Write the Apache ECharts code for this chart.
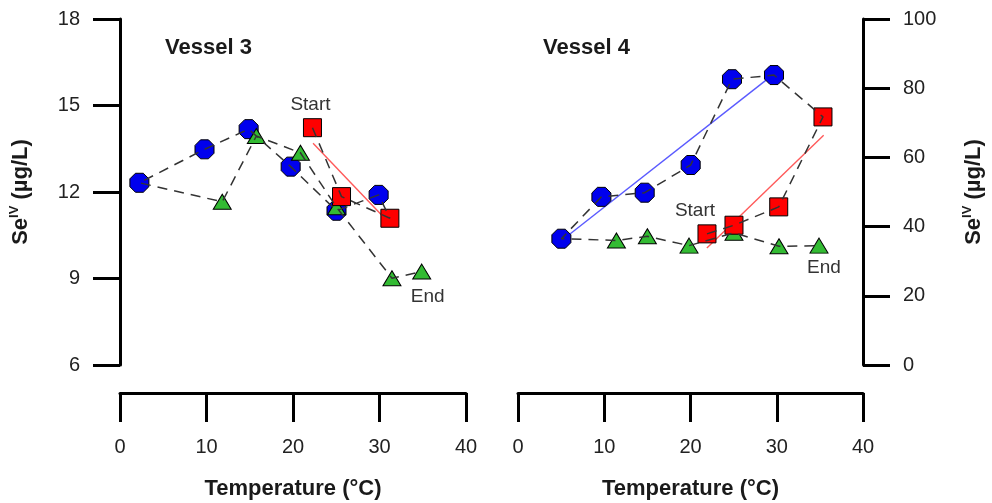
<!DOCTYPE html>
<html>
<head>
<meta charset="utf-8">
<script src="https://cdn.jsdelivr.net/npm/echarts@6/dist/echarts.min.js"></script>
<style>
html,body{margin:0;padding:0;background:#fff;}
#chart{width:992px;height:503px;}
</style>
</head>
<body>
<div id="chart"></div>
<script>
// ---------- data (chronological order within each phase) ----------
// Vessel 3
var v3SquaresT = [22.25, 25.61, 31.2];
var v3SquaresV = [14.23, 11.84, 11.09];
var v3CirclesT = [29.9, 25.03, 19.73, 14.87, 9.77, 2.24];
var v3CirclesV = [11.90, 11.35, 12.88, 14.18, 13.48, 12.32];
var v3TrianglesT = [11.82, 15.76, 20.86, 25.03, 31.44, 34.88];
var v3TrianglesV = [11.66, 13.94, 13.36, 11.47, 9.01, 9.24];
var v3RedFitT = [22.32, 30.24];
var v3RedFitV = [13.69, 11.20];
// Vessel 4
var v4SquaresT = [21.91, 25.04, 30.23, 35.36];
var v4SquaresV = [37.9, 40.4, 45.7, 71.7];
var v4CirclesT = [29.68, 24.81, 20.02, 14.69, 9.67, 5.03];
var v4CirclesV = [83.8, 82.6, 57.8, 49.8, 48.6, 36.5];
var v4TrianglesT = [11.41, 15.0, 19.83, 25.04, 30.26, 34.9];
var v4TrianglesV = [36.0, 37.2, 34.5, 38.2, 34.3, 34.5];
var v4BlueFitT = [5.03, 28.8];
var v4BlueFitV = [35.9, 82.4];
var v4RedFitT = [21.9, 35.44];
var v4RedFitV = [33.8, 66.4];
// axes / text
var xTicks = [0, 10, 20, 30, 40];
var v3YTicks = [6, 9, 12, 15, 18];
var v4YTicks = [0, 20, 40, 60, 80, 100];
var titles = ['Vessel 3', 'Vessel 4'];
var xName = 'Temperature (°C)';
var startLabel = 'Start', endLabel = 'End';

// ---------- helpers ----------
function pairs(t, v) { return t.map(function (x, i) { return [x, v[i]]; }); }
var FONT = '"Liberation Sans", Arial, sans-serif';
var octagon = 'path://M29.3,0L70.7,0L100,29.3L100,70.7L70.7,100L29.3,100L0,70.7L0,29.3Z';
var yName = '{a|Se}{s|IV}{a| (µg/L)}';
var yNameStyle = {
  rich: {
    a: {fontFamily: FONT, fontSize: 22, fontWeight: 'bold', color: '#1a1a1a', lineHeight: 26},
    s: {fontFamily: FONT, fontSize: 13, fontWeight: 'bold', color: '#1a1a1a', lineHeight: 26, verticalAlign: 'top'}
  }
};

function xAxisFor(gi) {
  return {
    type: 'value', gridIndex: gi, min: xTicks[0], max: xTicks[xTicks.length - 1], interval: 10,
    offset: 28, name: xName, nameLocation: 'middle', nameGap: 85,
    nameTextStyle: {fontFamily: FONT, fontSize: 22, fontWeight: 'bold', color: '#1a1a1a'},
    axisLine: {show: true, onZero: false, lineStyle: {color: '#000', width: 3}},
    axisTick: {show: true, inside: false, length: 29, lineStyle: {color: '#000', width: 3}},
    axisLabel: {fontFamily: FONT, fontSize: 20, color: '#222', margin: 44},
    splitLine: {show: false}
  };
}
function yAxisFor(gi, pos, ticks, gap) {
  return {
    type: 'value', gridIndex: gi, position: pos,
    min: ticks[0], max: ticks[ticks.length - 1], interval: ticks[1] - ticks[0],
    name: yName, nameLocation: 'middle', nameRotate: 90, nameGap: gap, nameTextStyle: yNameStyle,
    axisLine: {show: true, onZero: false, lineStyle: {color: '#000', width: 3}},
    axisTick: {show: true, inside: false, length: 27, lineStyle: {color: '#000', width: 3}},
    axisLabel: {fontFamily: FONT, fontSize: 20, color: '#222', margin: 40},
    splitLine: {show: false}
  };
}

function markerSeries(gi, data, symbol, size, color, labels) {
  var d = data.map(function (p, i) {
    var item = {value: p};
    if (labels && labels[i]) item.label = labels[i];
    return item;
  });
  return {
    type: 'scatter', xAxisIndex: gi, yAxisIndex: gi, data: d, symbol: symbol, symbolSize: size,
    itemStyle: {color: color, borderColor: '#000', borderWidth: 1, opacity: 1},
    label: {show: false, fontFamily: FONT, fontSize: 19, color: '#333'},
    z: 3, silent: true
  };
}
function pathSeries(gi, pts) {
  return {
    type: 'line', xAxisIndex: gi, yAxisIndex: gi, data: pts, showSymbol: false, symbol: 'none',
    lineStyle: {color: '#333', width: 1.5, type: [10, 7]}, z: 5, silent: true, animation: false
  };
}
function fitSeries(gi, pts, color) {
  return {
    type: 'line', xAxisIndex: gi, yAxisIndex: gi, data: pts, showSymbol: false, symbol: 'none',
    lineStyle: {color: color, width: 1.4}, z: 2, silent: true
  };
}

var v3Sq = pairs(v3SquaresT, v3SquaresV), v3Ci = pairs(v3CirclesT, v3CirclesV), v3Tr = pairs(v3TrianglesT, v3TrianglesV);
var v4Sq = pairs(v4SquaresT, v4SquaresV), v4Ci = pairs(v4CirclesT, v4CirclesV), v4Tr = pairs(v4TrianglesT, v4TrianglesV);

function startLbl(dx) { return {show: true, formatter: startLabel, position: 'top', distance: 4, offset: [dx, 0]}; }
function endLbl(dx, dist) { return {show: true, formatter: endLabel, position: 'bottom', distance: dist, offset: [dx, 0]}; }

var v3TrLabels = []; v3TrLabels[v3Tr.length - 1] = endLbl(6, 8);
var v4TrLabels = []; v4TrLabels[v4Tr.length - 1] = endLbl(5, 5);

var titleStyle = {fontFamily: FONT, fontSize: 22, fontWeight: 'bold', color: '#1a1a1a'};
var option = {
  animation: false,
  backgroundColor: '#fff',
  title: [
    {text: titles[0], left: 165, top: 37, padding: 0, textStyle: titleStyle},
    {text: titles[1], left: 543, top: 37, padding: 0, textStyle: titleStyle}
  ],
  grid: [
    {left: 120, top: 19, width: 346, height: 346, containLabel: false, outerBoundsMode: 'none'},
    {left: 518, top: 19, width: 345, height: 346, containLabel: false, outerBoundsMode: 'none'}
  ],
  xAxis: [xAxisFor(0), xAxisFor(1)],
  yAxis: [yAxisFor(0, 'left', v3YTicks, 86), yAxisFor(1, 'right', v4YTicks, 98)],
  series: [
    fitSeries(0, pairs(v3RedFitT, v3RedFitV), '#ff5a5a'),
    fitSeries(1, pairs(v4BlueFitT, v4BlueFitV), '#5a5aff'),
    fitSeries(1, pairs(v4RedFitT, v4RedFitV), '#ff5a5a'),
    markerSeries(0, v3Ci, octagon, 19, '#0000ee'),
    markerSeries(0, v3Tr, 'triangle', [18, 15], '#33bb33', v3TrLabels),
    markerSeries(0, v3Sq, 'rect', 18, '#ff0000', [startLbl(-2)]),
    markerSeries(1, v4Ci, octagon, 19, '#0000ee'),
    markerSeries(1, v4Tr, 'triangle', [18, 15], '#33bb33', v4TrLabels),
    markerSeries(1, v4Sq, 'rect', 18, '#ff0000', [startLbl(-12)]),
    pathSeries(0, v3Sq.concat(v3Ci, v3Tr)),
    pathSeries(1, v4Sq.concat(v4Ci, v4Tr))
  ]
};
var chart = echarts.init(document.getElementById('chart'), null, {renderer: 'canvas'});
chart.setOption(option);
</script>
</body>
</html>
